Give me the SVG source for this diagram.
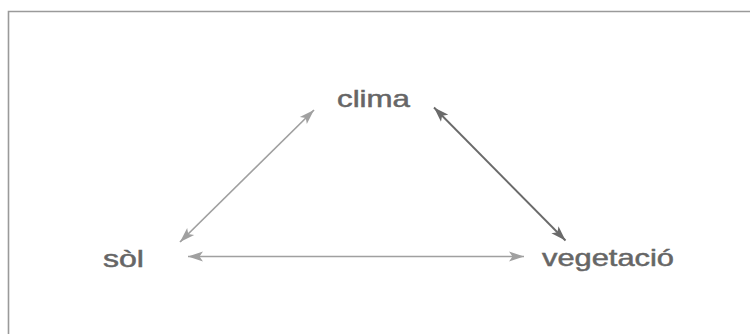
<svg xmlns="http://www.w3.org/2000/svg" width="750" height="334" viewBox="0 0 750 334">
<style>
.lbl{font-family:"Liberation Sans",Arial,sans-serif;font-size:24px;fill:#666666;stroke:#666666;stroke-width:0.5}
.frame{fill:none;stroke:#9a9a9a;stroke-width:1.6}
.lt{stroke:#a0a0a0;stroke-width:1.7;fill:none}
.dk{stroke:#6a6a6a;stroke-width:1.9;fill:none}
</style>
<defs>
<marker id="ahL" markerWidth="16" markerHeight="12" refX="15" refY="6" orient="auto-start-reverse" markerUnits="userSpaceOnUse"><path d="M0,1 L15,6 L0,11 L3.5,6 z" fill="#a0a0a0"/></marker>
<marker id="ahD" markerWidth="16" markerHeight="12" refX="15" refY="6" orient="auto-start-reverse" markerUnits="userSpaceOnUse"><path d="M0,1 L15,6 L0,11 L3.5,6 z" fill="#6a6a6a"/></marker>
</defs>
<rect width="750" height="334" fill="#ffffff"/>
<path class="frame" d="M8.5,334 L8.5,11.5 L750,11.5"/>
<g id="connectors">
<line class="lt" x1="180" y1="242" x2="314" y2="110" marker-start="url(#ahL)" marker-end="url(#ahL)"/>
<line class="lt" x1="188" y1="256.5" x2="524" y2="256.5" marker-start="url(#ahL)" marker-end="url(#ahL)"/>
<line class="dk" x1="434" y1="107.5" x2="565.5" y2="240.5" marker-start="url(#ahD)" marker-end="url(#ahD)"/>
</g>
<g id="clima"><text class="lbl" x="337" y="107" textLength="73" lengthAdjust="spacingAndGlyphs">clima</text></g>
<g id="sol"><text class="lbl" x="103" y="267" textLength="41" lengthAdjust="spacingAndGlyphs">sòl</text></g>
<g id="vegetacio"><text class="lbl" x="542" y="266" textLength="132" lengthAdjust="spacingAndGlyphs">vegetació</text></g>
</svg>
